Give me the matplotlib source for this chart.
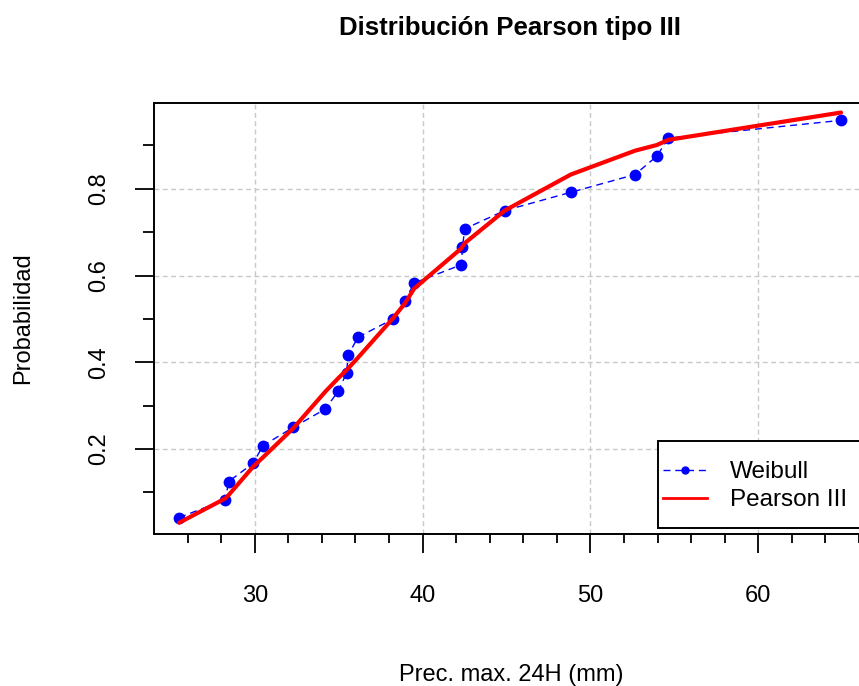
import matplotlib
matplotlib.use("Agg")
import matplotlib.pyplot as plt
from matplotlib.patches import Rectangle
from matplotlib.lines import Line2D
from matplotlib.ticker import FixedLocator

plt.rcParams['font.family'] = ['Liberation Sans', 'DejaVu Sans']

# Data
precip = [25.5, 28.25, 28.45, 29.9, 30.5, 32.3, 34.2, 34.97, 35.47, 35.57, 36.16,
          38.25, 38.95, 39.5, 42.32, 42.38, 42.52, 44.9, 48.83, 52.66, 53.95,
          54.65, 64.93]
weibull = [0.042, 0.083, 0.125, 0.167, 0.208, 0.250, 0.292, 0.333, 0.375, 0.417,
           0.458, 0.500, 0.542, 0.583, 0.625, 0.667, 0.708, 0.750, 0.792, 0.833,
           0.875, 0.917, 0.958]
pearson3 = [0.030, 0.086, 0.094, 0.159, 0.181, 0.248, 0.332, 0.363, 0.382, 0.386,
            0.411, 0.502, 0.536, 0.570, 0.663, 0.667, 0.675, 0.750, 0.833, 0.888,
            0.901, 0.913, 0.976]
x_ticks = [30, 40, 50, 60]
y_ticks = [0.2, 0.4, 0.6, 0.8]
x_minor = [26, 28, 32, 34, 36, 38, 42, 44, 46, 48, 52, 54, 56, 58, 62, 64, 66]
y_minor = [0.1, 0.3, 0.5, 0.7, 0.9]

W, H = 859, 686
fig = plt.figure(figsize=(W / 100, H / 100), dpi=100)

# axes box in pixels: left 154, right 869, top 103, bottom 534
L, R, T, B = 154, 869, 103, 534
ax = fig.add_axes([L / W, (H - B) / H, (R - L) / W, (B - T) / H])

ax.set_xlim(24.0, 66.6)
ax.set_ylim(0.004, 0.998)

ax.grid(True, color='#c8c8c8', linestyle=(0, (3.5, 2.5)), linewidth=1.0, zorder=0)

wl, = ax.plot(precip, weibull, color='#0000FF', linewidth=1.0, marker='o',
              markersize=8.5, markeredgewidth=0, zorder=3, label='Weibull')
wl.set_dashes([5, 3.5])
ax.plot(precip, pearson3, color='#FF0000', linewidth=3.0, zorder=4,
        solid_joinstyle='round', solid_capstyle='round', label='Pearson III')

ax.set_xticks(x_ticks)
ax.set_yticks(y_ticks)
ax.set_xticklabels([str(v) for v in x_ticks])
ax.set_yticklabels([f"{v:.1f}" for v in y_ticks])
ax.xaxis.set_minor_locator(FixedLocator(x_minor))
ax.yaxis.set_minor_locator(FixedLocator(y_minor))

ax.tick_params(axis='both', which='major', direction='out', length=13.8, width=1.3,
               labelsize=17, color='black')
ax.tick_params(axis='x', which='major', pad=23)
ax.tick_params(axis='y', which='major', pad=18)
ax.tick_params(axis='x', which='minor', direction='out', length=6.5, width=1.3)
ax.tick_params(axis='y', which='minor', direction='out', length=7.7, width=1.3)
for lab in ax.get_yticklabels():
    lab.set_rotation(90)
    lab.set_va('center')

for s in ax.spines.values():
    s.set_linewidth(1.4)
    s.set_color('black')

ax.set_xlabel('Prec. max. 24H (mm)', fontsize=17)
ax.xaxis.set_label_coords(0.5, (B - 675) / (B - T))
ax.xaxis.label.set_va('center')
ax.set_ylabel('Probabilidad', fontsize=17)
ax.yaxis.set_label_coords((23 - L) / (R - L), 0.5)
ax.yaxis.label.set_ha('center')
ax.yaxis.label.set_va('center')

fig.text(510 / W, 1 - 28 / H, 'Distribución Pearson tipo III', fontsize=18.5,
         fontweight='bold', ha='center', va='center')

# legend box (frame extends past the right edge like the reference)
fig.add_artist(Rectangle((658 / W, 1 - 528 / H), (900 - 658) / W, (528 - 441) / H,
                         transform=fig.transFigure, facecolor='white',
                         edgecolor='black', linewidth=1.4, zorder=5))
leg_handles = [
    Line2D([], [], color='#0000FF', linewidth=1.0, dashes=[5, 3.5], marker='o',
           markersize=6, markeredgewidth=0),
    Line2D([], [], color='#FF0000', linewidth=2.0),
]
leg = fig.legend(leg_handles, ['Weibull', 'Pearson III'], loc='upper left',
                 bbox_to_anchor=(663 / W, 1 - 461 / H), frameon=False, fontsize=17.5,
                 borderpad=0, borderaxespad=0, handlelength=1.8, handletextpad=0.95,
                 labelspacing=0.25, markerscale=1.0, numpoints=1)
leg.set_zorder(6)

fig.savefig('out.png', dpi=100)
